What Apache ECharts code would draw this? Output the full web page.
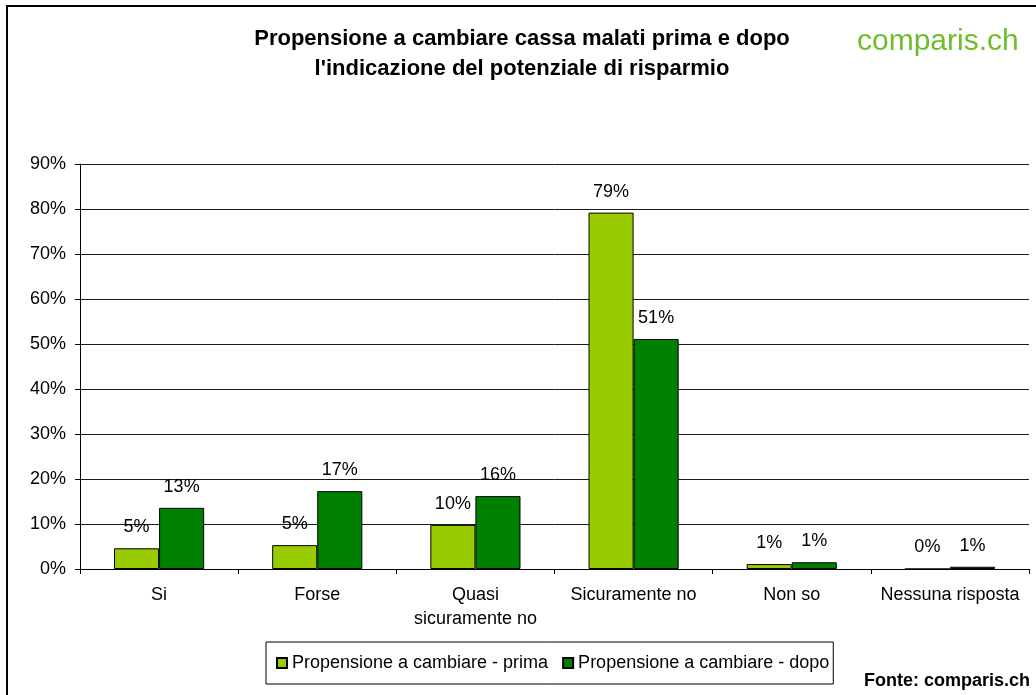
<!DOCTYPE html>
<html>
<head>
<meta charset="utf-8">
<script src="https://cdn.jsdelivr.net/npm/echarts@6/dist/echarts.min.js"></script>
<style>
html,body{margin:0;padding:0;background:#fff;}
#chart{width:1036px;height:695px;}
</style>
</head>
<body>
<div id="chart"></div>
<script>
const categories = ["Si", "Forse", "Quasi\nsicuramente no", "Sicuramente no", "Non so", "Nessuna risposta"];
const primaValues = [4.6, 5.3, 9.8, 79.2, 1.1, 0];
const dopoValues = [13.6, 17.3, 16.2, 51.1, 1.5, 0.5];
const primaLabels = ["5%", "5%", "10%", "79%", "1%", "0%"];
const dopoLabels = ["13%", "17%", "16%", "51%", "1%", "1%"];
const seriesNames = ["Propensione a cambiare - prima", "Propensione a cambiare - dopo"];
const titleLines = ["Propensione a cambiare cassa malati prima e dopo", "l'indicazione del potenziale di risparmio"];
const logoText = "comparis.ch";
const sourceText = "Fonte: comparis.ch";

const FONT = "'Liberation Sans', Arial, sans-serif";
const chart = echarts.init(document.getElementById('chart'), null, {renderer: 'canvas'});

function labelFor(arr) {
  return {
    show: true, position: 'top', distance: 12,
    fontFamily: FONT, fontSize: 18, color: '#000',
    formatter: p => arr[p.dataIndex]
  };
}

chart.setOption({
  backgroundColor: '#fff',
  animation: false,
  textStyle: {fontFamily: FONT},
  grid: {left: 80, right: 7, top: 164, bottom: 126, containLabel: false},
  legend: {
    left: 266, top: 642,
    icon: 'rect',
    itemWidth: 10, itemHeight: 10, itemGap: 14,
    padding: [12, 4, 12, 10],
    borderColor: '#000', borderWidth: 1,
    textStyle: {fontFamily: FONT, fontSize: 18, color: '#000'},
    data: seriesNames
  },
  xAxis: {
    type: 'category',
    data: categories,
    axisLine: {lineStyle: {color: '#000', width: 1}},
    axisTick: {show: true, length: 5, lineStyle: {color: '#000'}},
    axisLabel: {color: '#000', fontFamily: FONT, fontSize: 18, lineHeight: 24, margin: 14, interval: 0}
  },
  yAxis: {
    type: 'value', min: 0, max: 90, interval: 10,
    axisLine: {show: true, lineStyle: {color: '#000', width: 1}},
    axisTick: {show: true, length: 5, lineStyle: {color: '#000'}},
    axisLabel: {color: '#000', fontFamily: FONT, fontSize: 18, margin: 14, formatter: '{value}%'},
    splitLine: {show: true, lineStyle: {color: '#1a1a1a', width: 1}}
  },
  series: [
    {
      name: seriesNames[0], type: 'bar', data: primaValues,
      barGap: '0%', barCategoryGap: '43%',
      itemStyle: {color: '#99CC00', borderColor: '#000', borderWidth: 1},
      label: labelFor(primaLabels)
    },
    {
      name: seriesNames[1], type: 'bar', data: dopoValues,
      barGap: '0%', barCategoryGap: '43%',
      itemStyle: {color: '#008000', borderColor: '#000', borderWidth: 1},
      label: labelFor(dopoLabels)
    }
  ],
  graphic: [
    {type: 'rect', shape: {x: 7, y: 6, width: 1040, height: 700}, style: {fill: 'none', stroke: '#000', lineWidth: 2}, silent: true, z: -10},
    {type: 'text', style: {text: titleLines[0], x: 522, y: 39, textAlign: 'center', textVerticalAlign: 'middle', font: "bold 22px " + FONT, fill: '#000'}},
    {type: 'text', style: {text: titleLines[1], x: 522, y: 69, textAlign: 'center', textVerticalAlign: 'middle', font: "bold 22px " + FONT, fill: '#000'}},
    {type: 'text', style: {text: logoText, x: 857, y: 42, textAlign: 'left', textVerticalAlign: 'middle', font: "30px " + FONT, fill: '#6cbf2a'}},
    {type: 'text', style: {text: sourceText, x: 1030, y: 681, textAlign: 'right', textVerticalAlign: 'middle', font: "bold 18px " + FONT, fill: '#000'}}
  ]
});
</script>
</body>
</html>
